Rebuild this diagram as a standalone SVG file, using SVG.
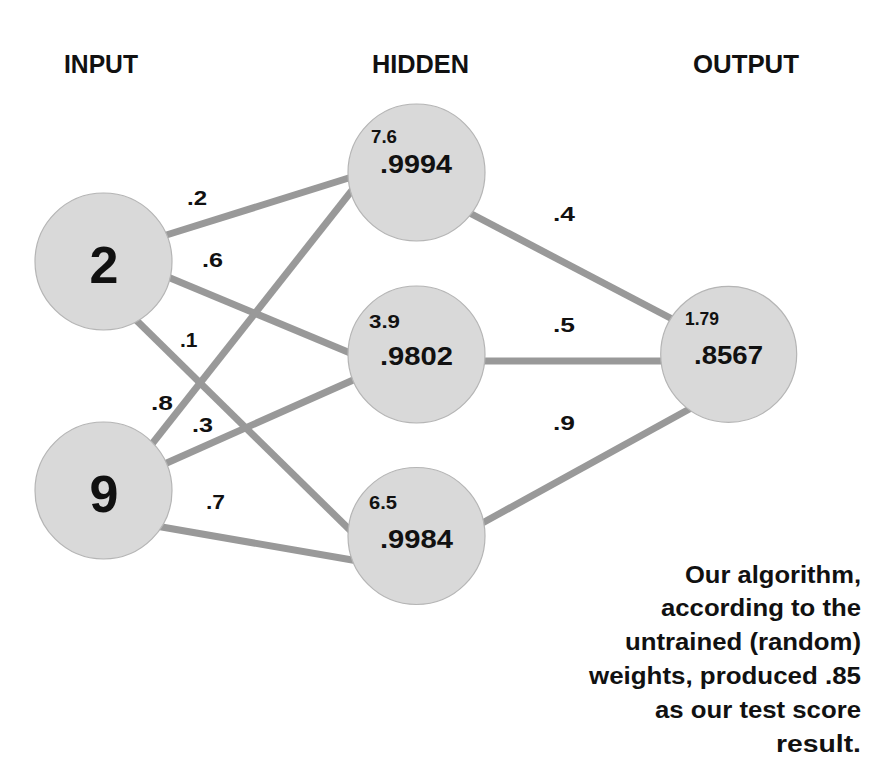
<svg xmlns="http://www.w3.org/2000/svg" width="888" height="780" viewBox="0 0 888 780">
<style>
.bg{fill:#ffffff}
.node{fill:#d9d9d9;stroke:#b5b5b5;stroke-width:1.2}
.edge{stroke:#999999;stroke-width:7;fill:none}
.t{font-family:"Liberation Sans",Arial,sans-serif;font-weight:bold;fill:#111111}
.hdr{font-size:25px}
.big{font-size:52px;text-anchor:middle}
.val{font-size:25px}
.sum{font-size:18px}
.w{font-size:21px}
.para{font-size:23px}
</style>
<rect class="bg" x="0" y="0" width="888" height="780"/>
<g id="headers">
<text class="t hdr" x="64" y="73" textLength="74" lengthAdjust="spacingAndGlyphs">INPUT</text>
<text class="t hdr" x="372" y="73" textLength="97" lengthAdjust="spacingAndGlyphs">HIDDEN</text>
<text class="t hdr" x="693" y="73" textLength="106" lengthAdjust="spacingAndGlyphs">OUTPUT</text>
</g>
<g id="connectors">
<line class="edge" x1="160" y1="237" x2="355" y2="176"/>
<line class="edge" x1="163" y1="275" x2="355" y2="355"/>
<line class="edge" x1="132" y1="316" x2="356" y2="536"/>
<line class="edge" x1="148" y1="449" x2="357" y2="184"/>
<line class="edge" x1="160" y1="466" x2="360" y2="377"/>
<line class="edge" x1="156" y1="526" x2="358" y2="561"/>
<line class="edge" x1="462" y1="209" x2="676" y2="321"/>
<line class="edge" x1="478" y1="361" x2="666" y2="361"/>
<line class="edge" x1="477" y1="526" x2="693" y2="407"/>
</g>
<g id="weights">
<text class="t w" x="187" y="205" textLength="20" lengthAdjust="spacingAndGlyphs">.2</text>
<text class="t w" x="202" y="267" textLength="21" lengthAdjust="spacingAndGlyphs">.6</text>
<text class="t w" x="180" y="347">.1</text>
<text class="t w" x="151" y="410" textLength="22" lengthAdjust="spacingAndGlyphs">.8</text>
<text class="t w" x="192" y="432" textLength="21" lengthAdjust="spacingAndGlyphs">.3</text>
<text class="t w" x="206" y="509" textLength="19" lengthAdjust="spacingAndGlyphs">.7</text>
<text class="t w" x="553" y="221" textLength="22" lengthAdjust="spacingAndGlyphs">.4</text>
<text class="t w" x="553" y="332" textLength="22" lengthAdjust="spacingAndGlyphs">.5</text>
<text class="t w" x="553" y="430" textLength="22" lengthAdjust="spacingAndGlyphs">.9</text>
</g>
<g id="input-2">
<circle class="node" cx="103.5" cy="261.5" r="68.5"/>
<text class="t big" x="104" y="283">2</text>
</g>
<g id="input-9">
<circle class="node" cx="103.5" cy="490.5" r="68.5"/>
<text class="t big" x="104" y="512">9</text>
</g>
<g id="hidden-1">
<circle class="node" cx="416.5" cy="172.5" r="68.5"/>
<text class="t sum" x="371" y="143" textLength="26" lengthAdjust="spacingAndGlyphs">7.6</text>
<text class="t val" x="380" y="173" textLength="72" lengthAdjust="spacingAndGlyphs">.9994</text>
</g>
<g id="hidden-2">
<circle class="node" cx="416.5" cy="354.5" r="68.5"/>
<text class="t sum" x="369" y="328" textLength="31" lengthAdjust="spacingAndGlyphs">3.9</text>
<text class="t val" x="380" y="365" textLength="73" lengthAdjust="spacingAndGlyphs">.9802</text>
</g>
<g id="hidden-3">
<circle class="node" cx="416.5" cy="536" r="68.5"/>
<text class="t sum" x="369" y="509" textLength="28" lengthAdjust="spacingAndGlyphs">6.5</text>
<text class="t val" x="380" y="548" textLength="73" lengthAdjust="spacingAndGlyphs">.9984</text>
</g>
<g id="output">
<circle class="node" cx="728.7" cy="354.3" r="68"/>
<text class="t sum" x="685" y="325" textLength="34" lengthAdjust="spacingAndGlyphs">1.79</text>
<text class="t val" x="694" y="364" textLength="69" lengthAdjust="spacingAndGlyphs">.8567</text>
</g>
<g id="caption">
<text class="t para" x="685" y="583" textLength="176" lengthAdjust="spacingAndGlyphs">Our algorithm,</text>
<text class="t para" x="661" y="616" textLength="200" lengthAdjust="spacingAndGlyphs">according to the</text>
<text class="t para" x="625" y="650" textLength="236" lengthAdjust="spacingAndGlyphs">untrained (random)</text>
<text class="t para" x="589" y="684" textLength="272" lengthAdjust="spacingAndGlyphs">weights, produced .85</text>
<text class="t para" x="655" y="718" textLength="206" lengthAdjust="spacingAndGlyphs">as our test score</text>
<text class="t para" x="776" y="752" textLength="85" lengthAdjust="spacingAndGlyphs">result.</text>
</g>
</svg>
